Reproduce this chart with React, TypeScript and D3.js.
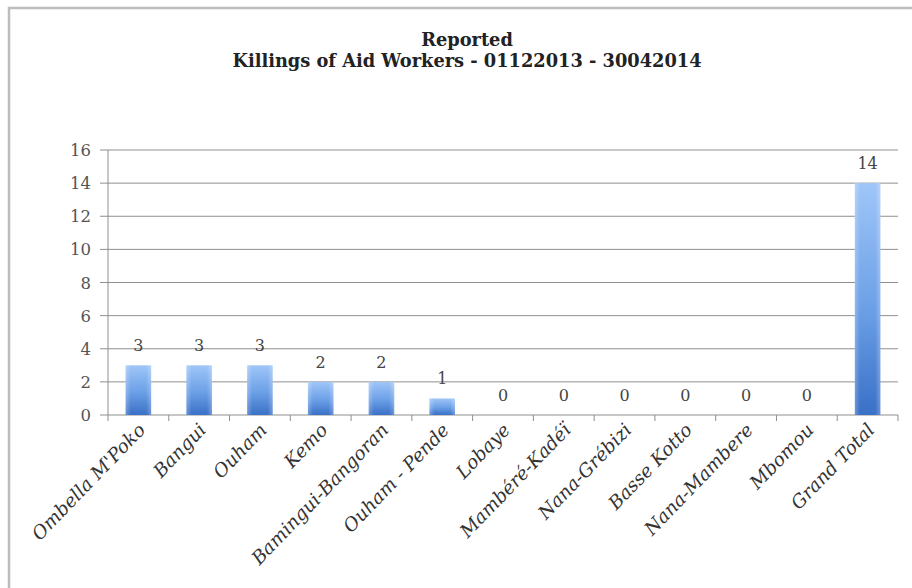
import React from "react";
import * as d3 from "d3";

const categories = [
  "Ombella M'Poko",
  "Bangui",
  "Ouham",
  "Kemo",
  "Bamingui-Bangoran",
  "Ouham - Pende",
  "Lobaye",
  "Mambéré-Kadéï",
  "Nana-Grébizi",
  "Basse Kotto",
  "Nana-Mambere",
  "Mbomou",
  "Grand Total",
];
const values = [3, 3, 3, 2, 2, 1, 0, 0, 0, 0, 0, 0, 14];
const yTicks = [0, 2, 4, 6, 8, 10, 12, 14, 16];
const titleLines = ["Reported", "Killings of Aid Workers - 01122013 - 30042014"];

const W = 912;
const H = 588;
const left = 108;
const right = 898;
const top = 150;
const bottom = 415;

export default function App() {
  const x = d3.scaleBand<string>().domain(categories).range([left, right]).padding(0);
  const y = d3.scaleLinear().domain([0, 16]).range([bottom, top]);
  const bw = x.bandwidth() * 0.42;
  const font = "'DejaVu Serif', serif";

  return (
    <svg
      width={W}
      height={H}
      style={{ position: "absolute", left: 0, top: 0, background: "#fff" }}
    >
      <defs>
        <linearGradient id="barGrad" x1="0" y1="0" x2="0" y2="1">
          <stop offset="0%" stopColor="#9fc6f8" />
          <stop offset="55%" stopColor="#6b9fe6" />
          <stop offset="100%" stopColor="#3a70c6" />
        </linearGradient>
        <linearGradient id="barEdge" x1="0" y1="0" x2="1" y2="0">
          <stop offset="0%" stopColor="#ffffff" stopOpacity="0.25" />
          <stop offset="20%" stopColor="#ffffff" stopOpacity="0" />
          <stop offset="80%" stopColor="#ffffff" stopOpacity="0" />
          <stop offset="100%" stopColor="#ffffff" stopOpacity="0.25" />
        </linearGradient>
      </defs>

      {/* frame */}
      <rect x={9} y={8} width={W + 20} height={H + 20} fill="none" stroke="#bdbdbd" strokeWidth={2.5} />

      {/* title */}
      {titleLines.map((t, i) => (
        <text
          key={t}
          x={467}
          y={46 + i * 21}
          textAnchor="middle"
          fontFamily={font}
          fontWeight="bold"
          fontSize={17.8}
          fill="#222"
        >
          {t}
        </text>
      ))}

      {/* gridlines and y axis */}
      {yTicks.map((t) => (
        <g key={t}>
          <line x1={left - 8} x2={right} y1={y(t)} y2={y(t)} stroke="#8f8f8f" strokeWidth={1} />
          <text
            x={left - 17}
            y={y(t) + 6}
            textAnchor="end"
            fontFamily={font}
            fontSize={16.5}
            fill="#555"
          >
            {t}
          </text>
        </g>
      ))}
      <line x1={left} x2={left} y1={top} y2={bottom} stroke="#8f8f8f" strokeWidth={1} />

      {/* x ticks */}
      {categories.map((c) => (
        <line
          key={"t" + c}
          x1={x(c) as number}
          x2={x(c) as number}
          y1={bottom}
          y2={bottom + 6}
          stroke="#8f8f8f"
        />
      ))}
      <line x1={right} x2={right} y1={bottom} y2={bottom + 6} stroke="#8f8f8f" />

      {/* bars */}
      {categories.map((c, i) => {
        const cx = (x(c) as number) + x.bandwidth() / 2;
        const v = values[i];
        return (
          <g key={c}>
            {v > 0 && (
              <>
                <rect x={cx - bw / 2} y={y(v)} width={bw} height={bottom - y(v)} fill="url(#barGrad)" />
                <rect x={cx - bw / 2} y={y(v)} width={bw} height={bottom - y(v)} fill="url(#barEdge)" />
              </>
            )}
            <text
              x={cx}
              y={y(v) - 14}
              textAnchor="middle"
              fontFamily={font}
              fontSize={16}
              fill="#444"
            >
              {v}
            </text>
            <text
              transform={`translate(${cx + 8},${bottom + 16}) rotate(-46)`}
              textAnchor="end"
              fontFamily={font}
              fontStyle="italic"
              fontSize={18.5}
              fill="#333"
            >
              {c}
            </text>
          </g>
        );
      })}
    </svg>
  );
}
